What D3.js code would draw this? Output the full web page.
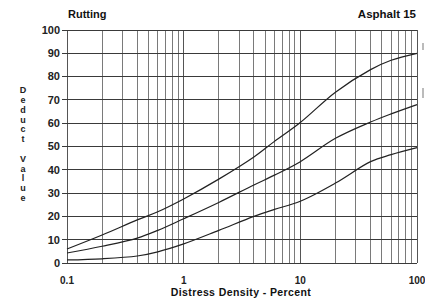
<!DOCTYPE html>
<html>
<head>
<meta charset="utf-8">
<script src="https://cdn.jsdelivr.net/npm/d3@7"></script>
<style>
  body { margin: 0; background: #fff; }
  svg { display: block; font-family: "Liberation Sans", Arial, Helvetica, sans-serif; }
</style>
</head>
<body>
<div id="chart"></div>
<script>
// distress density (percent) where the curves were read
var densities = [0.1, 0.2, 0.4, 0.6, 1, 2, 4, 6, 10, 20, 40, 60, 100];

// deduct values, one array per severity curve
var highSeverity   = [6, 12, 18.5, 22, 27.5, 36, 45.5, 52.2, 60.3, 73.3, 83, 87, 90];
var mediumSeverity = [4.3, 7.2, 10.7, 14, 19, 26, 33.5, 37.7, 43.5, 53.5, 60.5, 64, 68];
var lowSeverity    = [1.3, 1.8, 3, 4.8, 8.2, 14, 20, 23, 26.5, 34.3, 43.5, 46.5, 49.5];

var xTickValues = [0.1, 1, 10, 100];
var xTickLabels = ["0.1", "1", "10", "100"];
var yTickValues = [0, 10, 20, 30, 40, 50, 60, 70, 80, 90, 100];

var width = 425, height = 298;
var margin = {top: 30, right: 8, bottom: 35, left: 67};

var svg = d3.select("#chart").append("svg")
    .attr("width", width)
    .attr("height", height);

var xScale = d3.scaleLog()
    .domain([0.1, 100])
    .range([margin.left, margin.left + 350]);

var yScale = d3.scaleLinear()
    .domain([0, 100])
    .range([height - margin.bottom, margin.top]);

// minor + major vertical grid (1..9 in every decade)
var vGrid = [];
[0.1, 1, 10].forEach(function(decade) {
    for (var k = 1; k <= 9; k++) vGrid.push(decade * k);
});
vGrid.push(100);

svg.append("g").attr("class", "vgrid")
    .selectAll("line").data(vGrid).enter()
    .append("line")
    .attr("x1", function(d) { return xScale(d); })
    .attr("x2", function(d) { return xScale(d); })
    .attr("y1", yScale(100))
    .attr("y2", yScale(0))
    .attr("stroke", function(d) { return [0.1, 1, 10, 100].indexOf(d) >= 0 ? "#555" : "#7a7a7a"; })
    .attr("stroke-width", 1)
    .attr("shape-rendering", "crispEdges");

svg.append("g").attr("class", "hgrid")
    .selectAll("line").data(yTickValues).enter()
    .append("line")
    .attr("x1", xScale(0.1) - 5)
    .attr("x2", xScale(100))
    .attr("y1", function(d) { return yScale(d); })
    .attr("y2", function(d) { return yScale(d); })
    .attr("stroke", "#3a3a3a")
    .attr("stroke-width", 1)
    .attr("shape-rendering", "crispEdges");

// tick labels
svg.append("g").selectAll("text").data(yTickValues).enter()
    .append("text")
    .attr("x", margin.left - 7)
    .attr("y", function(d) { return yScale(d); })
    .attr("dy", "0.35em")
    .attr("text-anchor", "end")
    .attr("font-size", 11)
    .attr("font-weight", "bold")
    .attr("fill", "#222")
    .text(function(d) { return d; });

svg.append("g").selectAll("text").data(xTickValues).enter()
    .append("text")
    .attr("x", function(d) { return xScale(d); })
    .attr("y", 284)
    .attr("text-anchor", "middle")
    .attr("font-size", 10)
    .attr("font-weight", "bold")
    .attr("fill", "#222")
    .text(function(d, i) { return xTickLabels[i]; });

// curves
var line = d3.line()
    .x(function(d) { return xScale(d[0]); })
    .y(function(d) { return yScale(d[1]); })
    .curve(d3.curveCatmullRom.alpha(0.5));

[highSeverity, mediumSeverity, lowSeverity].forEach(function(series) {
    svg.append("path")
        .datum(d3.zip(densities, series))
        .attr("d", line)
        .attr("fill", "none")
        .attr("stroke", "#222")
        .attr("stroke-width", 1.2);
});

// titles
svg.append("text")
    .attr("x", 68).attr("y", 18)
    .attr("font-size", 11).attr("font-weight", "bold").attr("fill", "#111")
    .text("Rutting");

svg.append("text")
    .attr("x", 416).attr("y", 18)
    .attr("text-anchor", "end")
    .attr("font-size", 11.5).attr("font-weight", "bold").attr("fill", "#111")
    .text("Asphalt 15");

svg.append("text")
    .attr("x", 241).attr("y", 296)
    .attr("text-anchor", "middle")
    .attr("font-size", 10.5).attr("font-weight", "bold").attr("fill", "#111")
    .attr("letter-spacing", 0.4)
    .text("Distress Density - Percent");

// vertical stacked axis title
var yTitle = "Deduct Value".split("");
svg.append("g").selectAll("text").data(yTitle).enter()
    .append("text")
    .attr("x", 23)
    .attr("y", function(d, i) { return 90 + i * 9.8; })
    .attr("dy", "0.35em")
    .attr("text-anchor", "middle")
    .attr("font-size", 9).attr("font-weight", "bold").attr("fill", "#222")
    .text(function(d) { return d; });

// clipped severity markers at the right edge
svg.append("g").selectAll("rect").data([[43, 50], [88, 98]]).enter()
    .append("rect")
    .attr("x", 422).attr("width", 2)
    .attr("y", function(d) { return d[0]; })
    .attr("height", function(d) { return d[1] - d[0]; })
    .attr("fill", "#bbb");
</script>
</body>
</html>
